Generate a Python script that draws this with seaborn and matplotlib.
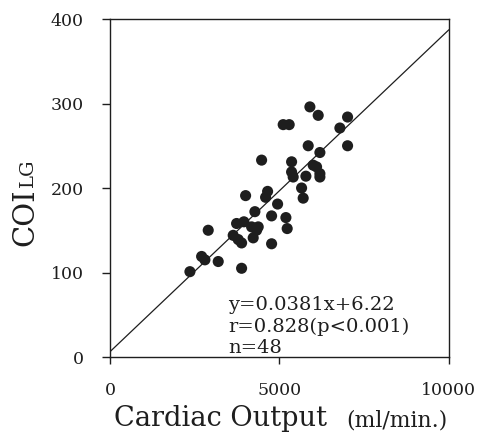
import numpy as np
import pandas as pd
import matplotlib
matplotlib.use('Agg')
import matplotlib.pyplot as plt
import seaborn as sns

# 読み取った値 (Cardiac Output ml/min, COI_LG)
cardiac_output = [2360, 2705, 2802, 2900, 3195, 3637, 3737, 3785, 3885, 3885,
                  3953, 4003, 4180, 4227, 4277, 4327, 4375, 4475, 4593, 4652,
                  4770, 4770, 4947, 5112, 5289, 5192, 5230, 5360, 5360, 5407,
                  5655, 5702, 5782, 5850, 5900, 5997, 6097, 6145, 6195, 6195,
                  6195, 6785, 7012, 7012]
coi_lg = [101, 119, 115, 150, 113, 144, 158, 139, 135, 105,
          160, 191, 154, 141, 172, 150, 154, 233, 189, 196,
          167, 134, 181, 275, 275, 165, 152, 231, 219, 213,
          200, 188, 214, 250, 296, 227, 225, 286, 242, 217,
          213, 271, 284, 250]

slope = 0.0381
intercept = 6.22
r_value = 0.828
n_cases = 48
x_ticks = [0, 5000, 10000]
y_ticks = [0, 100, 200, 300, 400]

sns.set_theme(style='ticks')
plt.rcParams['font.family'] = ['DejaVu Serif']
ink = '#1e1e1e'

df = pd.DataFrame({'co': cardiac_output, 'coi': coi_lg})
fit = pd.DataFrame({'co': [x_ticks[0], x_ticks[-1]]})
fit['coi'] = slope * fit['co'] + intercept

fig = plt.figure(figsize=(4.78, 4.32), dpi=100)
ax = fig.add_axes([0.230, 0.1736, 0.709, 0.7824])

sns.lineplot(data=fit, x='co', y='coi', color=ink, lw=0.9, ax=ax)
sns.scatterplot(data=df, x='co', y='coi', color=ink, s=64, edgecolor='none',
                ax=ax, zorder=3)

ax.set_xlim(x_ticks[0], x_ticks[-1])
ax.set_ylim(y_ticks[0], y_ticks[-1])
ax.set_xticks(x_ticks)
ax.set_yticks(y_ticks)
ax.set_xlabel('')
ax.set_ylabel('')
for sp in ax.spines.values():
    sp.set_visible(True)
    sp.set_color(ink)
    sp.set_linewidth(1.0)
ax.tick_params(axis='x', direction='out', colors=ink, labelcolor=ink,
               labelsize=12.5, width=1.0, length=5, pad=13)
ax.tick_params(axis='y', direction='out', colors=ink, labelcolor=ink,
               labelsize=12.5, width=1.0, length=6, pad=13)

# 回帰式
ax.text(0.348, 0.139, f'y={slope}x+{intercept}', transform=ax.transAxes,
        fontsize=14, color=ink, va='baseline')
ax.text(0.348, 0.075, f'r={r_value}(p<0.001)', transform=ax.transAxes,
        fontsize=14, color=ink, va='baseline')
ax.text(0.348, 0.012, f'n={n_cases}', transform=ax.transAxes,
        fontsize=14, color=ink, va='baseline')

# 軸ラベル（大きさの違う文字を並べる）
fig.canvas.draw()
r = fig.canvas.get_renderer()
W, H = fig.bbox.width, fig.bbox.height

t1 = fig.text(114 / W, 1 - 426 / H, 'Cardiac Output', fontsize=19.6, color=ink,
              ha='left', va='baseline')
bb = t1.get_window_extent(r)
fig.text((bb.x1 + 19) / W, 1 - 426 / H, '(ml/min.)', fontsize=15.8, color=ink,
         ha='left', va='baseline')

t2 = fig.text(33 / W, 1 - 246 / H, 'COI', fontsize=21, color=ink,
              rotation=90, rotation_mode='anchor', ha='left', va='baseline')
bb = t2.get_window_extent(r)
fig.text(33 / W, bb.y1 / H + 0.003, 'LG', fontsize=14, color=ink,
         rotation=90, rotation_mode='anchor', ha='left', va='baseline')

fig.savefig('out.png', dpi=100)
